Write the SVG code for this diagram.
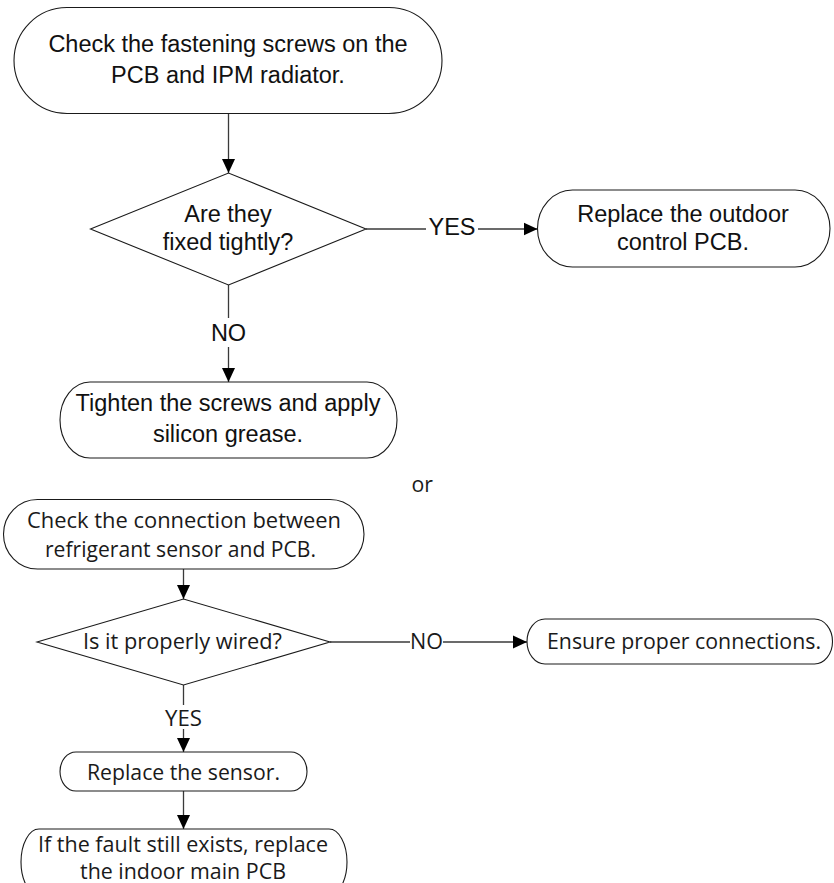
<svg xmlns="http://www.w3.org/2000/svg" width="834" height="883" viewBox="0 0 834 883">
<defs>
<style>
.box{fill:#fff;stroke:#1a1a1a;stroke-width:1.1}
.c{fill:none;stroke:#3a3a3a;stroke-width:1.3}
.a{font-family:"Liberation Sans",Arial,sans-serif;font-size:23.5px;fill:#111;text-anchor:middle}
.o{font-family:"Open Sans","Noto Sans",sans-serif;font-size:22.5px;fill:#1a1a1a}
</style>
<marker id="arr" markerUnits="userSpaceOnUse" markerWidth="14" markerHeight="14" refX="14" refY="7" orient="auto">
<path d="M0,0.5 L14,7 L0,13.5 z" fill="#000"/>
</marker>
</defs>
<rect width="834" height="883" fill="#fff"/>

<g id="connectors">
<line class="c" x1="228.5" y1="113.5" x2="228.5" y2="173" marker-end="url(#arr)"/>
<line class="c" x1="366" y1="229" x2="426" y2="229"/>
<line class="c" x1="478" y1="229" x2="537.5" y2="229" marker-end="url(#arr)"/>
<line class="c" x1="228.5" y1="285" x2="228.5" y2="318"/>
<line class="c" x1="228.5" y1="347" x2="228.5" y2="382" marker-end="url(#arr)"/>
<line class="c" x1="183.5" y1="569" x2="183.5" y2="599" marker-end="url(#arr)"/>
<line class="c" x1="330" y1="642" x2="410" y2="642"/>
<line class="c" x1="443" y1="642" x2="527" y2="642" marker-end="url(#arr)"/>
<line class="c" x1="183.5" y1="685" x2="183.5" y2="705"/>
<line class="c" x1="183.5" y1="729" x2="183.5" y2="752" marker-end="url(#arr)"/>
<line class="c" x1="183.5" y1="791" x2="183.5" y2="829" marker-end="url(#arr)"/>
<text class="a" x="452" y="235">YES</text>
<text class="a" x="228.5" y="341">NO</text>
<text class="o" x="410" y="649" textLength="33" lengthAdjust="spacingAndGlyphs">NO</text>
<text class="o" x="165" y="726" textLength="37" lengthAdjust="spacingAndGlyphs">YES</text>
</g>

<g id="n1">
<rect class="box" x="14" y="7.5" width="428" height="106" rx="53" ry="53"/>
<text class="a" x="228" y="52">Check the fastening screws on the</text>
<text class="a" x="228" y="83">PCB and IPM radiator.</text>
</g>

<g id="n2">
<polygon class="box" points="90.5,229 228.5,173 366,229 228.5,285"/>
<text class="a" x="228" y="222">Are they</text>
<text class="a" x="228" y="250">fixed tightly?</text>
</g>

<g id="n3">
<rect class="box" x="537.5" y="190" width="292.5" height="77" rx="35" ry="38.5"/>
<text class="a" x="683" y="222">Replace the outdoor</text>
<text class="a" x="683" y="250">control PCB.</text>
</g>

<g id="n4">
<rect class="box" x="60" y="382" width="337" height="76" rx="30" ry="38"/>
<text class="a" x="228" y="411">Tighten the screws and apply</text>
<text class="a" x="228" y="442">silicon grease.</text>
</g>

<g id="or">
<text class="o" x="411.5" y="491.5" font-size="23" textLength="21.5" lengthAdjust="spacingAndGlyphs">or</text>
</g>

<g id="n5">
<rect class="box" x="3.5" y="499.5" width="360.5" height="69.5" rx="34" ry="34.75"/>
<text class="o" x="27" y="528" textLength="314" lengthAdjust="spacingAndGlyphs">Check the connection between</text>
<text class="o" x="45" y="557" textLength="271" lengthAdjust="spacingAndGlyphs">refrigerant sensor and PCB.</text>
</g>

<g id="n6">
<polygon class="box" points="37,642 183.5,599 330,642 183.5,685"/>
<text class="o" x="83" y="649" textLength="199" lengthAdjust="spacingAndGlyphs">Is it properly wired?</text>
</g>

<g id="n7">
<rect class="box" x="527" y="619" width="305.5" height="45" rx="18" ry="22.5"/>
<text class="o" x="547" y="649" textLength="274" lengthAdjust="spacingAndGlyphs">Ensure proper connections.</text>
</g>

<g id="n8">
<rect class="box" x="60" y="752" width="247" height="39" rx="16" ry="19.5"/>
<text class="o" x="87" y="780" textLength="193" lengthAdjust="spacingAndGlyphs">Replace the sensor.</text>
</g>

<g id="n9">
<rect class="box" x="21" y="829" width="326" height="66" rx="18" ry="33"/>
<text class="o" x="38" y="852" textLength="290" lengthAdjust="spacingAndGlyphs">If the fault still exists, replace</text>
<text class="o" x="80" y="879" textLength="206" lengthAdjust="spacingAndGlyphs">the indoor main PCB</text>
</g>
</svg>
